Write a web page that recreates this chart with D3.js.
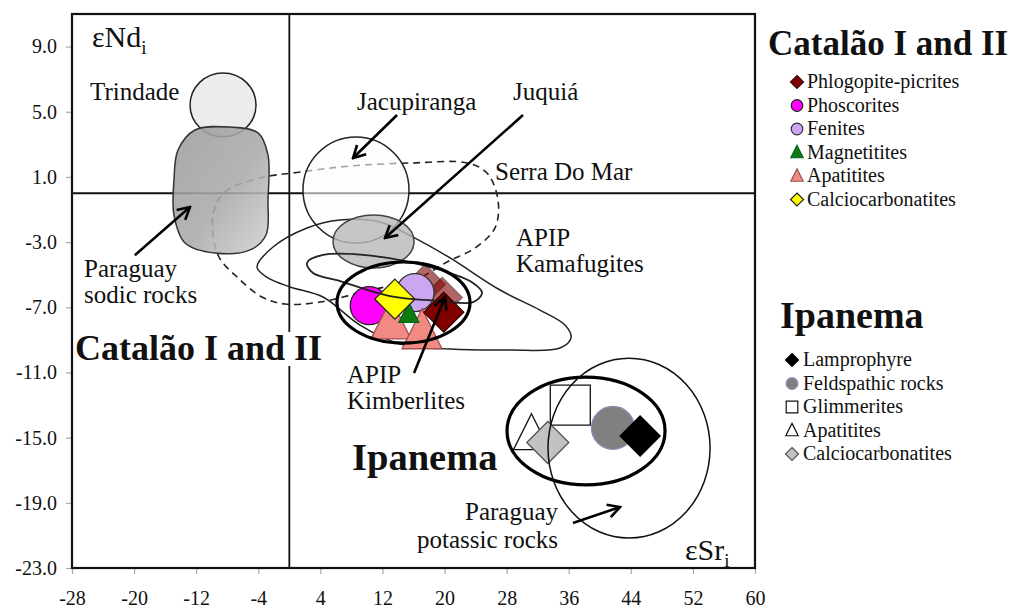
<!DOCTYPE html>
<html>
<head>
<meta charset="utf-8">
<script src="https://cdn.jsdelivr.net/npm/d3@7"></script>
<style>
  body { margin: 0; background: #fff; }
  svg text { font-family: "Liberation Serif", "Times New Roman", serif; fill: #111; }
</style>
</head>
<body>
<svg id="chart" width="1011" height="610"></svg>
<script>
// ---- axis ticks ----
const xTicks = [-28, -20, -12, -4, 4, 12, 20, 28, 36, 44, 52, 60];
const yTicks = [9.0, 5.0, 1.0, -3.0, -7.0, -11.0, -15.0, -19.0, -23.0];

// ---- Catalão I and II samples: [rock, εSr_i, εNd_i] ----
const catalaoRocks = ["Phlogopite-picrites", "Phoscorites", "Fenites", "Magnetitites", "Apatitites", "Calciocarbonatites"];
const catalaoSamples = [
  ["Phlogopite-picrites", 17.5, -5.6],
  ["Phlogopite-picrites", 19.7, -6.4],
  ["Phoscorites", 10.3, -6.9],
  ["Fenites", 16.2, -6.1],
  ["Apatitites", 13.1, -7.9],
  ["Apatitites", 17.1, -8.5],
  ["Magnetitites", 15.4, -7.4],
  ["Calciocarbonatites", 13.6, -6.5],
  ["Phlogopite-picrites", 19.9, -7.3]
];

// ---- Ipanema samples: [rock, εSr_i, εNd_i] ----
const ipanemaRocks = ["Lamprophyre", "Feldspathic rocks", "Glimmerites", "Apatitites", "Calciocarbonatites"];
const ipanemaSamples = [
  ["Glimmerites", 36.2, -13.0],
  ["Apatitites", 31.2, -14.8],
  ["Calciocarbonatites", 33.3, -15.3],
  ["Feldspathic rocks", 41.7, -14.4],
  ["Lamprophyre", 45.2, -14.9]
];

// ---- elliptical fields: [name, centre εSr, centre εNd, half-width εSr, half-height εNd] ----
const ellipseFields = [
  ["Trindade", -8.54, 5.42, 4.25, 1.96],
  ["Jacupiranga", 8.59, 0.20, 6.83, 3.25],
  ["Juquiá", 10.85, -2.96, 5.22, 1.63],
  ["Catalão I and II", 14.71, -6.71, 8.57, 2.49],
  ["Ipanema", 38.23, -14.59, 10.18, 3.31],
  ["Paraguay potassic rocks", 43.77, -15.64, 10.44, 5.52]
];

// ---- free-form field outlines, [εSr, εNd] ----
const paraguaySodic = [[-14.34, 2.65], [-12.15, 3.88], [-7.64, 4.06], [-4.03, 3.70], [-2.75, 2.35], [-2.75, -0.42],
  [-3.0, -2.56], [-5.06, -3.48], [-9.57, -3.67], [-13.44, -3.05], [-14.86, -1.34], [-14.86, 0.81]];
const serraDoMar = [[-9.83, -1.34], [-8.29, 0.08], [-3.78, 0.93], [1.38, 1.30], [7.82, 1.67], [15.94, 1.86], [22.9, 1.86],
  [25.47, 1.24], [26.89, -0.42], [26.5, -2.13], [23.93, -3.36], [20.32, -4.22], [16.2, -5.33], [10.4, -5.94],
  [3.95, -6.68], [-0.55, -6.8], [-3.52, -6.37], [-6.61, -5.2], [-9.19, -3.79]];
const apipKamafugites = [[-4.16, -4.53], [-2.1, -3.3], [2.28, -2.13], [6.53, -1.64], [11.69, -1.77], [15.94, -2.69],
  [20.71, -3.97], [27.15, -5.94], [32.3, -7.17], [35.52, -8.09], [36.3, -8.88], [34.88, -9.5], [28.44, -9.62],
  [20.71, -9.56], [14.26, -9.25], [9.11, -8.09], [4.34, -6.37], [0.09, -5.75], [-2.75, -5.2]];
const apipKimberlites = [[2.28, -4.28], [4.34, -3.79], [10.78, -3.85], [19.42, -4.71], [23.67, -5.51], [24.83, -6.12],
  [23.67, -6.68], [19.42, -6.61], [12.97, -6.31], [6.53, -5.39], [3.05, -4.9]];

// ---- annotation arrows: [from εSr, from εNd, to εSr, to εNd] ----
const arrows = [
  [13.88, 4.8, 8.21, 2.16],
  [30.11, 4.8, 12.33, -2.75],
  [-19.9, -3.8, -12.8, -0.85],
  [16.07, -11.03, 20.06, -6.37],
  [36.55, -20.24, 42.61, -19.26]
];

// ---- annotation texts: [text, εSr, εNd, kind] ----
const fieldLabels = [
  ["Trindade", -25.68, 5.72, "plain"],
  ["Jacupiranga", 8.72, 5.11, "plain"],
  ["Juquiá", 28.82, 5.72, "plain"],
  ["Serra Do Mar", 26.5, 0.81, "plain"],
  ["APIP", 29.21, -3.25, "plain"],
  ["Kamafugites", 29.21, -4.85, "plain"],
  ["Paraguay", -26.45, -5.14, "plain"],
  ["sodic rocks", -26.45, -6.74, "plain"],
  ["Catalão I and II", -27.61, -10.23, "bold"],
  ["APIP", 7.43, -11.65, "plain"],
  ["Kimberlites", 7.43, -13.24, "plain"],
  ["Ipanema", 8.08, -16.99, "bold"],
  ["Paraguay", 34.62, -20.05, "end"],
  ["potassic rocks", 34.62, -21.77, "end"]
];

// ---------------- styles ----------------
const catalaoStyle = {
  "Phlogopite-picrites": { shape: "diamond", fill: "#800000", stroke: "#3a0000" },
  "Phoscorites": { shape: "circle", fill: "#ff00ff", stroke: "#222" },
  "Fenites": { shape: "circle", fill: "#cca6f2", stroke: "#333" },
  "Magnetitites": { shape: "triangle", fill: "#107a10", stroke: "#062" },
  "Apatitites": { shape: "triangle", fill: "#f28a84", stroke: "#a05050" },
  "Calciocarbonatites": { shape: "diamond", fill: "#ffff00", stroke: "#222" }
};
const ipanemaStyle = {
  "Lamprophyre": { shape: "diamond", fill: "#000", stroke: "#000" },
  "Feldspathic rocks": { shape: "circle", fill: "#808080", stroke: "#8a8ab4" },
  "Glimmerites": { shape: "square", fill: "#fff", stroke: "#111" },
  "Apatitites": { shape: "triangle", fill: "#fff", stroke: "#111" },
  "Calciocarbonatites": { shape: "diamond", fill: "#c2c2c2", stroke: "#555" }
};

const W = 1011, H = 610;
const margin = { left: 72, right: 256, top: 14, bottom: 42 };
const x = d3.scaleLinear().domain([-28, 60]).range([margin.left, W - margin.right]);
const y = d3.scaleLinear().domain([-23, 11]).range([H - margin.bottom, margin.top]);

const svg = d3.select("#chart");
const defs = svg.append("defs");

const grad = defs.append("linearGradient").attr("id", "sodicFill")
  .attr("x1", 0).attr("y1", 0).attr("x2", 1).attr("y2", 1);
grad.append("stop").attr("offset", "0%").attr("stop-color", "#9c9c9c");
grad.append("stop").attr("offset", "55%").attr("stop-color", "#aaaaaa");
grad.append("stop").attr("offset", "100%").attr("stop-color", "#d2d2d2");

defs.append("marker").attr("id", "head")
  .attr("viewBox", "-14 -8 16 16").attr("refX", 0).attr("refY", 0)
  .attr("markerUnits", "userSpaceOnUse").attr("markerWidth", 16).attr("markerHeight", 16)
  .attr("orient", "auto")
  .append("path").attr("d", "M-12,-6.5 L0,0 L-12,6.5")
  .attr("fill", "none").attr("stroke", "#000").attr("stroke-width", 2.6);

defs.append("clipPath").attr("id", "plotClip").append("rect")
  .attr("x", x(-28)).attr("y", y(11)).attr("width", x(60) - x(-28)).attr("height", y(-23) - y(11));

const plot = svg.append("g").attr("clip-path", "url(#plotClip)");

// zero lines
plot.append("line").attr("x1", x(0)).attr("x2", x(0)).attr("y1", y(11)).attr("y2", y(-23))
  .attr("stroke", "#111").attr("stroke-width", 1.8);
plot.append("line").attr("x1", x(-28)).attr("x2", x(60)).attr("y1", y(0)).attr("y2", y(0))
  .attr("stroke", "#111").attr("stroke-width", 1.8);

const closed = d3.line().x(d => x(d[0])).y(d => y(d[1])).curve(d3.curveCatmullRomClosed.alpha(0.5));
const field = name => ellipseFields.find(f => f[0] === name);

function ellipse(g, f) {
  return g.append("ellipse")
    .attr("cx", x(f[1])).attr("cy", y(f[2]))
    .attr("rx", x(f[1] + f[3]) - x(f[1])).attr("ry", y(f[2]) - y(f[2] + f[4]));
}

// Trindade
ellipse(plot, field("Trindade")).attr("fill", "#ececec").attr("stroke", "#222").attr("stroke-width", 1.5);
// Serra do Mar (dashed)
plot.append("path").attr("d", closed(serraDoMar)).attr("fill", "none")
  .attr("stroke", "#222").attr("stroke-width", 1.6).attr("stroke-dasharray", "7,5");
// Jacupiranga
ellipse(plot, field("Jacupiranga")).attr("fill", "#fbfbfb").attr("fill-opacity", 0.6)
  .attr("stroke", "#222").attr("stroke-width", 1.5);
// APIP kamafugites
plot.append("path").attr("d", closed(apipKamafugites)).attr("fill", "none")
  .attr("stroke", "#222").attr("stroke-width", 1.5);
// Paraguay sodic rocks
plot.append("path").attr("d", closed(paraguaySodic)).attr("fill", "url(#sodicFill)").attr("fill-opacity", 0.88)
  .attr("stroke", "#333").attr("stroke-width", 1.5);
// Juquiá
ellipse(plot, field("Juquiá")).attr("fill", "#b9b9b9").attr("fill-opacity", 0.82)
  .attr("stroke", "#444").attr("stroke-width", 1.5);

// ---- marker shapes ----
function shapePath(shape, s) {
  if (shape === "diamond") return `M0,${-s}L${s},0L0,${s}L${-s},0Z`;
  if (shape === "square") return `M${-s},${-s}H${s}V${s}H${-s}Z`;
  if (shape === "triangle") return `M0,${-s * 1.15}L${s},${s * 0.85}L${-s},${s * 0.85}Z`;
  return d3.path().toString();
}
function drawMarker(g, shape, cx, cy, s, st, opacity) {
  let el;
  if (shape === "circle") {
    el = g.append("circle").attr("cx", cx).attr("cy", cy).attr("r", s);
  } else {
    el = g.append("path").attr("d", shapePath(shape, s)).attr("transform", `translate(${cx},${cy})`);
  }
  el.attr("fill", st.fill).attr("stroke", st.stroke).attr("stroke-width", 1.3);
  if (opacity != null) el.attr("opacity", opacity);
  return el;
}

// Catalão I and II markers
const catalaoSize = { "diamond": 20, "circle": 19, "triangle": 20 };
catalaoSamples.forEach((d, i) => {
  const st = catalaoStyle[d[0]];
  let s = catalaoSize[st.shape];
  if (d[0] === "Magnetitites") s = 10;
  const faded = d[0] === "Phlogopite-picrites" && i < 2 ? 0.6 : null;
  drawMarker(plot, st.shape, x(d[1]), y(d[2]), s, st, faded);
});

// APIP kimberlites outline and Catalão field on top of the markers
plot.append("path").attr("d", closed(apipKimberlites)).attr("fill", "none")
  .attr("stroke", "#222").attr("stroke-width", 1.8);
ellipse(plot, field("Catalão I and II")).attr("fill", "none").attr("stroke", "#000").attr("stroke-width", 3.2);

// Ipanema markers
const ipanemaSize = { "Glimmerites": 20, "Apatitites": 18, "Calciocarbonatites": 21, "Feldspathic rocks": 21.5, "Lamprophyre": 20 };
ipanemaSamples.forEach(d => {
  const st = ipanemaStyle[d[0]];
  drawMarker(plot, st.shape, x(d[1]), y(d[2]), ipanemaSize[d[0]], st);
});
ellipse(plot, field("Ipanema")).attr("fill", "none").attr("stroke", "#000").attr("stroke-width", 3.2);
ellipse(plot, field("Paraguay potassic rocks")).attr("fill", "none").attr("stroke", "#111").attr("stroke-width", 1.5);

// arrows
plot.selectAll("line.arrow").data(arrows).join("line").attr("class", "arrow")
  .attr("x1", d => x(d[0])).attr("y1", d => y(d[1]))
  .attr("x2", d => x(d[2])).attr("y2", d => y(d[3]))
  .attr("stroke", "#000").attr("stroke-width", 2.6).attr("marker-end", "url(#head)");

// field labels
fieldLabels.forEach(d => {
  const bold = d[3] === "bold";
  const t = svg.append("text").attr("x", x(d[1])).attr("y", y(d[2])).text(d[0])
    .attr("font-size", bold ? (d[0] === "Ipanema" ? 38.5 : 36) : 25)
    .attr("font-weight", bold ? "bold" : "normal")
    .attr("text-anchor", d[3] === "end" ? "end" : "start");
  if (bold) {
    const b = t.node().getBBox();
    svg.insert("rect", () => t.node()).attr("x", b.x - 2).attr("y", b.y + 4)
      .attr("width", b.width + 4).attr("height", b.height - 6).attr("fill", "#fff");
  }
});

// axis titles εNd_i and εSr_i
function axisTitle(sr, nd, main) {
  const t = svg.append("text").attr("x", x(sr)).attr("y", y(nd)).attr("font-size", 30);
  t.append("tspan").text(main);
  t.append("tspan").text("i").attr("font-size", 19).attr("dy", 7);
}
axisTitle(-25.42, 8.97, "εNd");
axisTitle(50.98, -22.51, "εSr");

// ---- axes ----
const fmtLocale = d3.formatLocale({ decimal: ".", thousands: ",", grouping: [3], currency: ["", ""], minus: "-" });
const xAxis = d3.axisBottom(x).tickValues(xTicks).tickSize(6).tickPadding(17).tickFormat(fmtLocale.format("d"));
const yAxis = d3.axisLeft(y).tickValues(yTicks).tickSize(6).tickPadding(9).tickFormat(fmtLocale.format(".1f"));

const gx = svg.append("g").attr("transform", `translate(0,${y(-23)})`).call(xAxis);
const gy = svg.append("g").attr("transform", `translate(${x(-28)},0)`).call(yAxis);
[gx, gy].forEach(g => {
  g.select(".domain").remove();
  g.selectAll(".tick line").attr("stroke", "#aaa").attr("stroke-width", 1.2);
  g.selectAll(".tick text").attr("font-size", 20).attr("fill", "#111")
    .attr("font-family", "Liberation Serif, Times New Roman, serif");
});

// plot frame
svg.append("rect").attr("x", x(-28)).attr("y", y(11))
  .attr("width", x(60) - x(-28)).attr("height", y(-23) - y(11))
  .attr("fill", "none").attr("stroke", "#111").attr("stroke-width", 2.2);

// ---- legends ----
function legend(title, titleX, titleY, titleSize, rows, styles, markX, textX, rowY0, step, sizes) {
  svg.append("text").attr("x", titleX).attr("y", titleY).text(title)
    .attr("font-size", titleSize).attr("font-weight", "bold");
  rows.forEach((r, i) => {
    const yy = rowY0 + i * step;
    const st = styles[r];
    drawMarker(svg, st.shape, markX, yy - 6, sizes[st.shape], st).attr("stroke-width", 1.2);
    svg.append("text").attr("x", textX).attr("y", yy).text(r).attr("font-size", 20);
  });
}
legend("Catalão I and II", 768, 55, 35, catalaoRocks, catalaoStyle, 797, 807, 88, 23.5,
  { diamond: 6.5, circle: 5.8, triangle: 6.2 });
legend("Ipanema", 780, 328, 38, ipanemaRocks, ipanemaStyle, 792, 803, 366, 23.5,
  { diamond: 6.5, circle: 5.8, triangle: 6.2, square: 5.8 });
</script>
</body>
</html>
